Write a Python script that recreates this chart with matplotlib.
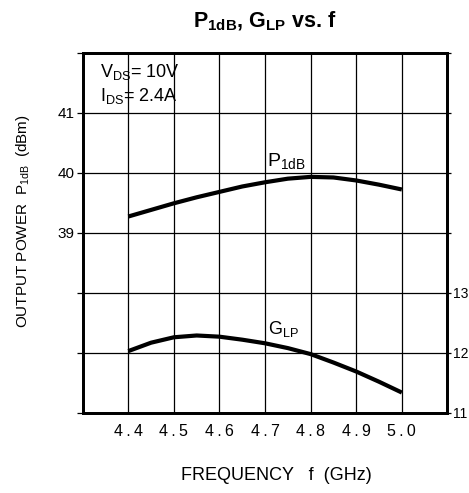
import matplotlib
matplotlib.use('Agg')
import matplotlib.pyplot as plt

plt.rcParams['font.family'] = ['Liberation Sans', 'DejaVu Sans']
plt.rcParams['mathtext.fontset'] = 'custom'
plt.rcParams['mathtext.rm'] = 'Liberation Sans'
plt.rcParams['mathtext.bf'] = 'Liberation Sans:bold'

# data
freq_p1db = [4.40, 4.45, 4.50, 4.55, 4.60, 4.65, 4.70, 4.75, 4.80, 4.85, 4.90, 4.95, 5.00]
p1db      = [39.27, 39.38, 39.49, 39.59, 39.68, 39.77, 39.84, 39.90, 39.93, 39.92, 39.87, 39.80, 39.72]

freq_glp = [4.40, 4.45, 4.50, 4.55, 4.60, 4.65, 4.70, 4.75, 4.80, 4.85, 4.90, 4.95, 5.00]
glp      = [12.03, 12.17, 12.26, 12.29, 12.27, 12.22, 12.16, 12.08, 11.98, 11.84, 11.69, 11.52, 11.34]

x_grid    = [4.3, 4.4, 4.5, 4.6, 4.7, 4.8, 4.9, 5.0, 5.1]
x_labels  = ['', '4.4', '4.5', '4.6', '4.7', '4.8', '4.9', '5.0', '']
yl_grid   = [36, 37, 38, 39, 40, 41, 42]
yl_labels = ['', '', '', '39', '40', '41', '']
yr_grid   = [11, 12, 13, 14, 15, 16, 17]
yr_labels = ['11', '12', '13', '', '', '', '']

fig = plt.figure(figsize=(4.69, 4.93), dpi=100)
ax = fig.add_axes([0.1763, 0.1623, 0.7777, 0.7312])

ax.set_xlim(4.3, 5.1)
ax.set_ylim(36, 42)
ax.set_xticks(x_grid)
ax.set_xticklabels([lab.replace('.', '\u2009.\u2009') for lab in x_labels], fontsize=11.5)
ax.set_yticks(yl_grid)
ax.set_yticklabels(yl_labels, fontsize=11)
ax.grid(True, color='black', linewidth=0.9)
ax.tick_params(axis='x', length=0, pad=8)
ax.tick_params(axis='y', direction='out', length=4, width=0.9, pad=2)
for sp in ax.spines.values():
    sp.set_linewidth(2)

ax.plot(freq_p1db, p1db, color='black', linewidth=3, solid_capstyle='butt')

ax2 = ax.twinx()
ax2.set_ylim(11, 17)
ax2.set_yticks(yr_grid)
ax2.set_yticklabels(yr_labels, fontsize=10)
ax2.tick_params(axis='y', direction='out', length=3, width=0.9, pad=1)
ax2.plot(freq_glp, glp, color='black', linewidth=3, solid_capstyle='butt')
for sp in ax2.spines.values():
    sp.set_linewidth(2)

ax.text(4.705, 40.1, r'P$_{\mathrm{1dB}}$', fontsize=14, ha='left', va='baseline')
ax2.text(4.707, 12.32, r'G$_{\mathrm{LP}}$', fontsize=13, ha='left', va='baseline')

ax.text(4.338, 41.68, r'V$_{\mathrm{DS}}$= 10V', fontsize=13, ha='left', va='center')
ax.text(4.338, 41.28, r'I$_{\mathrm{DS}}$= 2.4A', fontsize=13, ha='left', va='center')

fig.text(0.565, 0.957, r'$\mathbf{P_{1dB}}$, $\mathbf{G_{LP}}$ vs. f', fontsize=15.5,
         fontweight='bold', ha='center', va='center')
fig.text(0.05, 0.552, r'OUTPUT POWER  P$_{\mathrm{1dB}}$  (dBm)', fontsize=11,
         rotation=90, ha='center', va='center')
fig.text(0.589, 0.035, 'FREQUENCY   f  (GHz)', fontsize=13, ha='center', va='center')

fig.savefig('out.png', dpi=100, facecolor='white')
